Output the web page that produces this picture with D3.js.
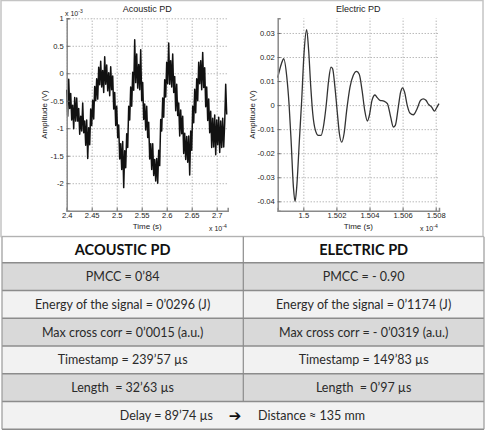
<!DOCTYPE html>
<html>
<head>
<meta charset="utf-8">
<script src="https://cdnjs.cloudflare.com/ajax/libs/d3/7.8.5/d3.min.js"></script>
<style>
body { margin: 0; background: #fff; }
svg { display: block; }
</style>
</head>
<body>
<div id="chart"></div>
<script>
// acoustic PD: amplitude in 1e-3 V, one sample every 0.002 (x 1e-4 s) from 2.4
var acousticStart = 2.4;
var acousticStep = 0.002;
var acousticValues = [
    -0.30, -0.78, -0.11, -0.64, -0.37, -0.85, -0.58, -1.01, -0.44, -0.87,
    -0.45, -0.87, -0.64, -1.11, -0.78, -1.05, -0.54, -1.08, -0.87, -1.31,
    -0.85, -1.55, -0.99, -1.30, -0.65, -0.95, -0.49, -0.83, -0.24, -0.50,
    -0.10, -0.47, 0.11, -0.21, 0.22, -0.25, 0.05, -0.35, 0.30, -0.20,
    0.15, -0.32, 0.01, -0.41, 0.12, -0.30, -0.05, -0.65, -0.35, -0.95,
    -0.60, -1.17, -0.94, -1.56, -1.28, -1.75, -1.24, -2.08, -1.41, -1.72,
    -1.10, -1.35, -0.60, -0.85, -0.25, -0.60, 0.02, -0.31, 0.61, -0.17,
    0.35, -0.27, 0.16, -0.30, 0.43, -0.50, -0.17, -0.84, -0.56, -1.03,
    -0.60, -1.17, -0.89, -1.56, -1.28, -1.75, -1.28, -1.86, -1.57, -1.96,
    -1.55, -2.00, -1.40, -1.68, -0.84, -1.05, -0.45, -0.80, -0.12, -0.43,
    0.20, -0.19, 0.55, -0.20, 0.23, -0.25, 0.35, -0.35, -0.06, -0.68,
    -0.20, -0.77, -0.54, -1.14, -0.67, -1.10, -0.78, -1.46, -1.09, -1.57,
    -1.15, -1.62, -1.14, -1.85, -1.05, -1.40, -0.60, -0.90, -0.29, -0.72,
    -0.10, -0.50, 0.20, -0.19, 0.23, -0.30, 0.38, -0.26, 0.10, -0.61,
    -0.25, -0.86, -0.47, -1.08, -0.69, -1.35, -0.82, -1.34, -0.76, -1.48,
    -0.85, -1.30, -0.80, -1.44, -0.87, -1.35, -0.82, -1.34, -0.90, -0.20,
    -0.75
];

// electric PD: time in 1e-4 s, amplitude in V
var electricTime = [
    1.49845, 1.49875, 1.49881, 1.49900, 1.49914, 1.49926, 1.49940, 1.49950,
    1.49960, 1.49976, 1.49990, 1.50004, 1.50020, 1.50032, 1.50045, 1.50057,
    1.50073, 1.50091, 1.50107, 1.50121, 1.50137, 1.50153, 1.50167, 1.50177,
    1.50191, 1.50206, 1.50218, 1.50232, 1.50246, 1.50262, 1.50282, 1.50302,
    1.50322, 1.50338, 1.50355, 1.50371, 1.50387, 1.50399, 1.50415, 1.50433,
    1.50447, 1.50463, 1.50487, 1.50508, 1.50528, 1.50544, 1.50556, 1.50574,
    1.50588, 1.50600, 1.50612, 1.50628, 1.50644, 1.50665, 1.50685, 1.50709,
    1.50725, 1.50741, 1.50757, 1.50775, 1.50793, 1.50806, 1.50820
];
var electricValues = [
    0.0114, 0.0186, 0.0193, 0.0117, 0.0000, -0.0147, -0.0341, -0.0401,
    -0.0341, -0.0147, 0.0020, 0.0214, 0.0314, 0.0228, 0.0075, -0.0036,
    -0.0105, -0.0126, -0.0126, -0.0091, -0.0008, 0.0103, 0.0158, 0.0151,
    0.0075, -0.0036, -0.0119, -0.0154, -0.0119, -0.0022, 0.0075, 0.0124,
    0.0140, 0.0128, 0.0061, -0.0022, -0.0066, -0.0043, 0.0020, 0.0042,
    0.0031, 0.0020, 0.0017, 0.0006, -0.0050, -0.0091, -0.0084, -0.0008,
    0.0054, 0.0072, 0.0054, -0.0001, -0.0033, -0.0040, -0.0019, 0.0020,
    0.0026, 0.0020, 0.0003, -0.0008, -0.0025, -0.0011, 0.0006
];

var acousticXTicks = [2.4, 2.45, 2.5, 2.55, 2.6, 2.65, 2.7];
var acousticXLabels = ["2.4", "2.45", "2.5", "2.55", "2.6", "2.65", "2.7"];
var acousticYTicks = [1, 0.5, 0, -0.5, -1, -1.5, -2];
var acousticYLabels = ["1", "0.5", "0", "-0.5", "-1", "-1.5", "-2"];

var electricXTicks = [1.5, 1.502, 1.504, 1.506, 1.508];
var electricXLabels = ["1.5", "1.502", "1.504", "1.506", "1.508"];
var electricYTicks = [0.03, 0.02, 0.01, 0, -0.01, -0.02, -0.03, -0.04];
var electricYLabels = ["0.03", "0.02", "0.01", "0", "-0.01", "-0.02", "-0.03", "-0.04"];

// table
var tableHeaders = ["ACOUSTIC PD", "ELECTRIC PD"];
var acousticRows = ["PMCC = 0’84", "Energy of the signal = 0’0296 (J)", "Max cross corr = 0’0015 (a.u.)", "Timestamp = 239’57 µs", "Length  = 32’63 µs"];
var electricRows = ["PMCC = - 0.90", "Energy of the signal = 0’1174 (J)", "Max cross corr = - 0’0319 (a.u.)", "Timestamp = 149’83 µs", "Length  = 0’97 µs"];
var footerLeft = "Delay = 89’74 µs";
var footerArrow = "➔";
var footerRight = "Distance ≈ 135 mm";

var width = 488;
var height = 430;

var svg = d3.select("#chart")
    .append("svg")
    .attr("width", width)
    .attr("height", height);

var plotFont = "'Liberation Sans', Arial, sans-serif";
var tableFont = "Lato, 'Open Sans', sans-serif";

// light frame round the plots
svg.append("rect")
    .attr("x", 1)
    .attr("y", 0.5)
    .attr("width", 482)
    .attr("height", 236)
    .style("fill", "none")
    .style("stroke", "#c4c4c4")
    .style("stroke-width", 1.5);

function drawPlot(opt) {
    var x = d3.scaleLinear().domain(opt.xDomain).range([opt.left, opt.right]);
    var y = d3.scaleLinear().domain(opt.yDomain).range([opt.bottom, opt.top]);
    var w = opt.right - opt.left;
    var h = opt.bottom - opt.top;
    var g = svg.append("g");

    // grid
    g.append("g")
        .attr("transform", "translate(0," + opt.bottom + ")")
        .call(d3.axisBottom(x).tickValues(opt.xTicks).tickSize(-h).tickFormat(""))
        .call(function (s) {
            s.select(".domain").remove();
            s.selectAll("line").style("stroke", "#999").style("stroke-dasharray", "1,2");
        });
    g.append("g")
        .attr("transform", "translate(" + opt.left + ",0)")
        .call(d3.axisLeft(y).tickValues(opt.yTicks).tickSize(-w).tickFormat(""))
        .call(function (s) {
            s.select(".domain").remove();
            s.selectAll("line").style("stroke", "#999").style("stroke-dasharray", "1,2");
        });

    // signal
    g.append("path")
        .datum(opt.data)
        .attr("d", d3.line()
            .x(function (d) { return x(d[0]); })
            .y(function (d) { return y(d[1]); })
            .curve(opt.curve))
        .style("fill", "none")
        .style("stroke", opt.color)
        .style("stroke-width", opt.lineWidth)
        .style("stroke-linejoin", "round");

    // axes
    var xAxis = g.append("g")
        .attr("transform", "translate(0," + opt.bottom + ")")
        .call(d3.axisBottom(x).tickValues(opt.xTicks).tickSize(-3).tickPadding(2)
            .tickFormat(function (d, i) { return opt.xLabels[i]; }));
    var yAxis = g.append("g")
        .attr("transform", "translate(" + opt.left + ",0)")
        .call(d3.axisLeft(y).tickValues(opt.yTicks).tickSize(-3).tickPadding(3)
            .tickFormat(function (d, i) { return opt.yLabels[i]; }));
    [xAxis, yAxis].forEach(function (a) {
        a.select(".domain").style("stroke", "#8a8a8a").style("stroke-width", 1.5);
        a.selectAll("line").style("stroke", "#666");
        a.selectAll("text")
            .style("font-family", plotFont)
            .style("font-size", "7.6px")
            .style("fill", "#222");
    });

    // texts
    g.append("text")
        .attr("x", (opt.left + opt.right) / 2)
        .attr("y", 12)
        .attr("text-anchor", "middle")
        .style("font-family", plotFont)
        .style("font-size", "9px")
        .style("fill", "#222")
        .text(opt.title);

    g.append("text")
        .attr("transform", "translate(" + opt.yLabelX + "," + ((opt.top + opt.bottom) / 2) + ") rotate(-90)")
        .attr("text-anchor", "middle")
        .style("font-family", plotFont)
        .style("font-size", "8px")
        .style("fill", "#222")
        .text("Amplitude (V)");

    g.append("text")
        .attr("x", (opt.left + opt.right) / 2)
        .attr("y", 228.5)
        .attr("text-anchor", "middle")
        .style("font-family", plotFont)
        .style("font-size", "8px")
        .style("fill", "#222")
        .text("Time (s)");

    opt.exponents.forEach(function (e) {
        var t = g.append("text")
            .attr("x", e.x)
            .attr("y", e.y)
            .style("font-family", plotFont)
            .style("font-size", "7px")
            .style("fill", "#222");
        t.append("tspan").text("x 10");
        t.append("tspan").attr("dy", -3).style("font-size", "5px").text(e.power);
    });
}

drawPlot({
    title: "Acoustic PD",
    data: acousticValues.map(function (v, i) { return [acousticStart + i * acousticStep, v]; }),
    xDomain: [2.4, 2.722],
    yDomain: [-2.5, 1],
    left: 66.7, right: 227.7, top: 18.3, bottom: 210.7,
    xTicks: acousticXTicks, xLabels: acousticXLabels,
    yTicks: acousticYTicks, yLabels: acousticYLabels,
    yLabelX: 46.5,
    curve: d3.curveLinear,
    color: "#111",
    lineWidth: 1.5,
    exponents: [{x: 65, y: 15.5, power: "-3"}, {x: 209, y: 231, power: "-4"}]
});

drawPlot({
    title: "Electric PD",
    data: electricTime.map(function (t, i) { return [t, electricValues[i]]; }),
    xDomain: [1.49845, 1.5082],
    yDomain: [-0.0439, 0.0361],
    left: 277.7, right: 439, top: 18.3, bottom: 210.7,
    xTicks: electricXTicks, xLabels: electricXLabels,
    yTicks: electricYTicks, yLabels: electricYLabels,
    yLabelX: 255,
    curve: d3.curveMonotoneX,
    color: "#333",
    lineWidth: 1.3,
    exponents: [{x: 420, y: 231, power: "-4"}]
});

// table
var tableLeft = 2;
var tableRight = 484;
var tableMid = 243.3;
var tableTop = 236.7;
var headerBottom = 262.7;
var tableBottom = 429.3;
var rowCount = acousticRows.length + 1;
var rowY = d3.scaleLinear().domain([0, rowCount]).range([headerBottom, tableBottom]);
var rowFill = ["#d9d9d9", "#f2f2f2"];

var table = svg.append("g");

table.append("rect")
    .attr("x", tableLeft).attr("y", tableTop)
    .attr("width", tableRight - tableLeft).attr("height", headerBottom - tableTop)
    .style("fill", "#fff");

d3.range(rowCount).forEach(function (i) {
    table.append("rect")
        .attr("x", tableLeft).attr("y", rowY(i))
        .attr("width", tableRight - tableLeft).attr("height", rowY(i + 1) - rowY(i))
        .style("fill", rowFill[i % 2]);
});

tableHeaders.forEach(function (h, i) {
    table.append("text")
        .attr("x", i === 0 ? (tableLeft + tableMid) / 2 : (tableMid + tableRight) / 2)
        .attr("y", (tableTop + headerBottom) / 2)
        .attr("dy", "0.36em")
        .attr("text-anchor", "middle")
        .style("font-family", tableFont)
        .style("font-weight", 700)
        .style("font-size", "14.5px")
        .style("fill", "#111")
        .text(h);
});

function cellText(x, i, s) {
    table.append("text")
        .attr("x", x)
        .attr("y", (rowY(i) + rowY(i + 1)) / 2)
        .attr("dy", "0.36em")
        .attr("text-anchor", "middle")
        .style("white-space", "pre")
        .style("font-family", tableFont)
        .style("font-size", "12.5px")
        .style("fill", "#2a2a2a")
        .text(s);
}

acousticRows.forEach(function (s, i) { cellText((tableLeft + tableMid) / 2, i, s); });
electricRows.forEach(function (s, i) { cellText((tableMid + tableRight) / 2, i, s); });

var footY = (rowY(rowCount - 1) + rowY(rowCount)) / 2;
table.append("text")
    .attr("x", 213).attr("y", footY).attr("dy", "0.36em")
    .attr("text-anchor", "end")
    .style("font-family", tableFont).style("font-size", "12.5px").style("fill", "#2a2a2a")
    .text(footerLeft);
table.append("text")
    .attr("x", 235).attr("y", footY).attr("dy", "0.36em")
    .attr("text-anchor", "middle")
    .style("font-family", "'DejaVu Sans', sans-serif").style("font-size", "15px").style("fill", "#111")
    .text(footerArrow);
table.append("text")
    .attr("x", 258).attr("y", footY).attr("dy", "0.36em")
    .attr("text-anchor", "start")
    .style("font-family", tableFont).style("font-size", "12.5px").style("fill", "#2a2a2a")
    .text(footerRight);

// borders
var lineColor = "#8c8c8c";
d3.range(rowCount + 1).forEach(function (i) {
    table.append("line")
        .attr("x1", tableLeft).attr("x2", tableRight)
        .attr("y1", rowY(i)).attr("y2", rowY(i))
        .style("stroke", lineColor).style("stroke-width", 1.5);
});
table.append("line")
    .attr("x1", tableLeft).attr("x2", tableRight)
    .attr("y1", tableTop).attr("y2", tableTop)
    .style("stroke", "#aaa").style("stroke-width", 1);
table.append("line")
    .attr("x1", tableMid).attr("x2", tableMid)
    .attr("y1", tableTop).attr("y2", rowY(rowCount - 1))
    .style("stroke", lineColor).style("stroke-width", 1.2);
[tableLeft, tableRight].forEach(function (x) {
    table.append("line")
        .attr("x1", x).attr("x2", x)
        .attr("y1", tableTop).attr("y2", tableBottom)
        .style("stroke", "#999").style("stroke-width", 1.2);
});
</script>
</body>
</html>
